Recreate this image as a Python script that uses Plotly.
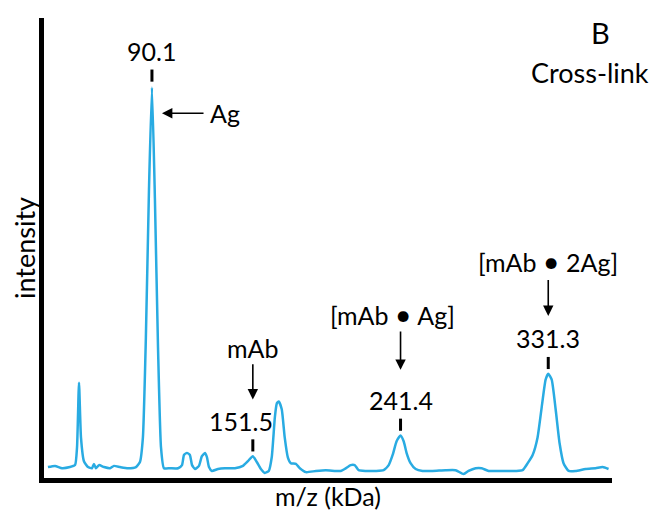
import plotly.graph_objects as go

# m/z in kDa and relative intensity
mz = [26.8, 31.1, 35.4, 40.2, 43.3, 44.5, 45.7, 46.9, 48.7, 51.2, 53.6, 54.8, 56.0, 57.9,
      60.9, 64.6, 67.0, 70.7, 75.5, 80.4, 82.8, 84.6, 86.4, 88.3, 90.1, 91.9, 93.8, 95.6,
      97.4, 101.1, 106.0, 108.4, 109.6, 111.4, 113.2, 114.5, 116.3, 118.7, 120.5, 122.4,
      123.6, 124.8, 126.6, 130.3, 134.5, 140.6, 145.5, 148.5, 151.5, 153.9, 156.4, 158.8,
      161.2, 163.0, 164.9, 166.1, 167.3, 169.1, 170.9, 172.8, 174.6, 177.7, 180.1, 183.8,
      189.8, 195.9, 202.0, 205.0, 207.4, 211.0, 213.5, 215.9, 220.2, 226.3, 231.1, 234.2,
      236.6, 239.0, 241.4, 243.3, 245.1, 247.5, 250.6, 254.8, 260.9, 268.8, 274.9, 279.8,
      282.8, 287.1, 290.8, 295.0, 302.3, 311.5, 315.7, 318.8, 321.8, 324.8, 327.3, 329.7,
      331.3, 333.4, 335.8, 338.2, 340.6, 343.7, 347.9, 354.0, 360.1, 364.4, 368.0]
intensity = [0.028, 0.031, 0.025, 0.028, 0.033, 0.079, 0.244, 0.104, 0.043, 0.028, 0.025,
             0.036, 0.025, 0.033, 0.028, 0.025, 0.031, 0.028, 0.025, 0.028, 0.041, 0.104,
             0.359, 0.740, 1.000, 0.715, 0.333, 0.079, 0.025, 0.025, 0.025, 0.033, 0.059,
             0.064, 0.059, 0.033, 0.023, 0.031, 0.056, 0.064, 0.053, 0.028, 0.018, 0.023,
             0.025, 0.025, 0.031, 0.043, 0.056, 0.041, 0.023, 0.013, 0.018, 0.053, 0.155,
             0.191, 0.196, 0.176, 0.104, 0.053, 0.038, 0.036, 0.025, 0.015, 0.018, 0.020,
             0.018, 0.018, 0.023, 0.033, 0.033, 0.020, 0.018, 0.018, 0.020, 0.033, 0.059,
             0.094, 0.109, 0.094, 0.064, 0.038, 0.023, 0.018, 0.018, 0.020, 0.020, 0.010,
             0.018, 0.025, 0.025, 0.018, 0.018, 0.018, 0.020, 0.038, 0.059, 0.104, 0.181,
             0.252, 0.267, 0.252, 0.176, 0.089, 0.038, 0.018, 0.018, 0.023, 0.025, 0.028,
             0.023]

peak_mz = [90.1, 151.5, 241.4, 331.3]
peak_int = [1.000, 0.056, 0.109, 0.267]
peak_labels = ["90.1", "151.5", "241.4", "331.3"]
BUL = "<span style='font-size:29px'>\u2022</span>"
species = ["Ag", "mAb", "[mAb " + BUL + " Ag]", "[mAb " + BUL + " 2Ag]"]

FONT = "Lato"
FS = 25
BLUE = "#29abe2"

fig = go.Figure()
fig.add_trace(go.Scatter(x=mz, y=intensity, mode="lines",
                         line=dict(color=BLUE, width=2.5, shape="spline", smoothing=0.5),
                         hoverinfo="skip", showlegend=False))

ann = []
shapes = []
# peak value labels + tick marks
label_dx = [0, -7, 0, 0]
for i, (m, h, lab) in enumerate(zip(peak_mz, peak_int, peak_labels)):
    tick_lo = h + 0.012 if i else h + 0.015
    shapes.append(dict(type="line", xref="x", yref="y", x0=m, x1=m,
                       y0=tick_lo, y1=tick_lo + 0.031, line=dict(color="black", width=3)))
    ann.append(dict(x=m + label_dx[i], y=tick_lo + 0.079, text=lab, showarrow=False,
                    font=dict(family=FONT, size=FS, color="black")))

# Ag arrow (horizontal)
ann.append(dict(x=96.2, y=0.934, ax=122.4, ay=0.934, axref="x", ayref="y", xref="x", yref="y",
                text="", showarrow=True, arrowhead=2, arrowsize=1.3, arrowwidth=1.6,
                arrowcolor="black", standoff=0))
ann.append(dict(x=134.5, y=0.934, text=species[0], showarrow=False,
                font=dict(family=FONT, size=FS, color="black")))
# vertical arrows for complexes
arrow_top = [None, 0.295, 0.379, 0.511]
arrow_head = [None, 0.201, 0.277, 0.415]
text_y = [None, 0.333, 0.422, 0.557]
text_x = [None, 151.5, 236.8, 331.3]
for i in range(1, 4):
    ann.append(dict(x=peak_mz[i], y=arrow_head[i], ax=peak_mz[i], ay=arrow_top[i],
                    axref="x", ayref="y", xref="x", yref="y", text="", showarrow=True,
                    arrowhead=2, arrowsize=1.3, arrowwidth=1.6, arrowcolor="black", standoff=0))
    ann.append(dict(x=text_x[i], y=text_y[i], text=species[i], showarrow=False,
                    font=dict(family=FONT, size=FS, color="black")))

ann.append(dict(x=0.979, y=0.968, xref="paper", yref="paper", text="B", showarrow=False,
                xanchor="center", yanchor="middle",
                font=dict(family=FONT, size=29, color="black")))
ann.append(dict(x=0.962, y=0.881, xref="paper", yref="paper", text="Cross-link", showarrow=False,
                xanchor="center", yanchor="middle",
                font=dict(family=FONT, size=27, color="black")))

fig.update_layout(
    width=653, height=506,
    margin=dict(l=36, r=49, t=10, b=33),
    plot_bgcolor="white", paper_bgcolor="white",
    annotations=ann, shapes=shapes,
    xaxis=dict(range=[24.4, 370.1], showline=True, linecolor="black", linewidth=5,
               showticklabels=False, ticks="", showgrid=False, zeroline=False,
               title=dict(text="m/z (kDa)", font=dict(family=FONT, size=FS, color="black"), standoff=8)),
    yaxis=dict(range=[0, 1.178], showline=True, linecolor="black", linewidth=5,
               showticklabels=False, ticks="", showgrid=False, zeroline=False,
               title=dict(text="intensity", font=dict(family=FONT, size=27, color="black"), standoff=2)),
)
fig.write_html("out.html")
